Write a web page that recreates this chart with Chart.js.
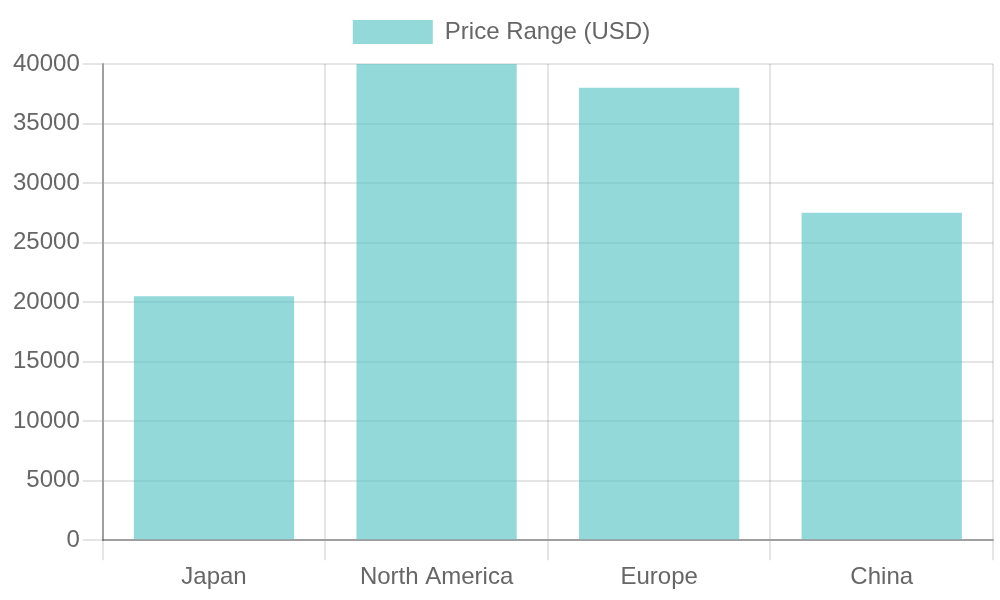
<!DOCTYPE html>
<html><head><meta charset="utf-8">
<script src="https://cdn.jsdelivr.net/npm/chart.js@4/dist/chart.umd.min.js"></script>
<style>html,body{margin:0;padding:0;background:#fff}#wrap{width:1000px;height:600px}</style>
</head><body><div id="wrap"><canvas id="c"></canvas></div>
<script>
const categories = ["Japan", "North America", "Europe", "China"];
const priceValues = [20500, 40000, 38000, 27500];
const seriesLabel = "Price Range (USD)";

Chart.defaults.font.family = "'Liberation Sans', Arial, sans-serif";
Chart.defaults.font.size = 24;
Chart.defaults.color = "#666";

const legendSpacer = {
  id: 'legendSpacer',
  beforeInit(chart) {
    const origFit = chart.legend.fit;
    chart.legend.fit = function () {
      origFit.bind(chart.legend)();
      this.height += 10;
    };
  }
};

new Chart(document.getElementById('c'), {
  type: 'bar',
  plugins: [legendSpacer],
  data: {
    labels: categories,
    datasets: [{
      label: seriesLabel,
      data: priceValues,
      backgroundColor: 'rgba(75,192,192,0.6)',
      borderColor: 'rgba(75,192,192,0.6)',
      borderWidth: 0
    }]
  },
  options: {
    responsive: true,
    maintainAspectRatio: false,
    animation: false,
    layout: { padding: { top: 10, right: 7, left: 10, bottom: 5 } },
    plugins: {
      legend: { labels: { boxWidth: 80, boxHeight: 24 } },
      tooltip: { enabled: false }
    },
    scales: {
      x: {
        grid: { color: 'rgba(0,0,0,0.1)', lineWidth: 2, tickLength: 20 },
        border: { color: 'rgba(0,0,0,0.3)', width: 2 }
      },
      y: {
        min: 0, max: 40000,
        ticks: { stepSize: 5000, callback: v => String(v) },
        grid: { color: 'rgba(0,0,0,0.1)', lineWidth: 2, tickLength: 20 },
        border: { color: 'rgba(0,0,0,0.3)', width: 2 }
      }
    }
  }
});
</script></body></html>
